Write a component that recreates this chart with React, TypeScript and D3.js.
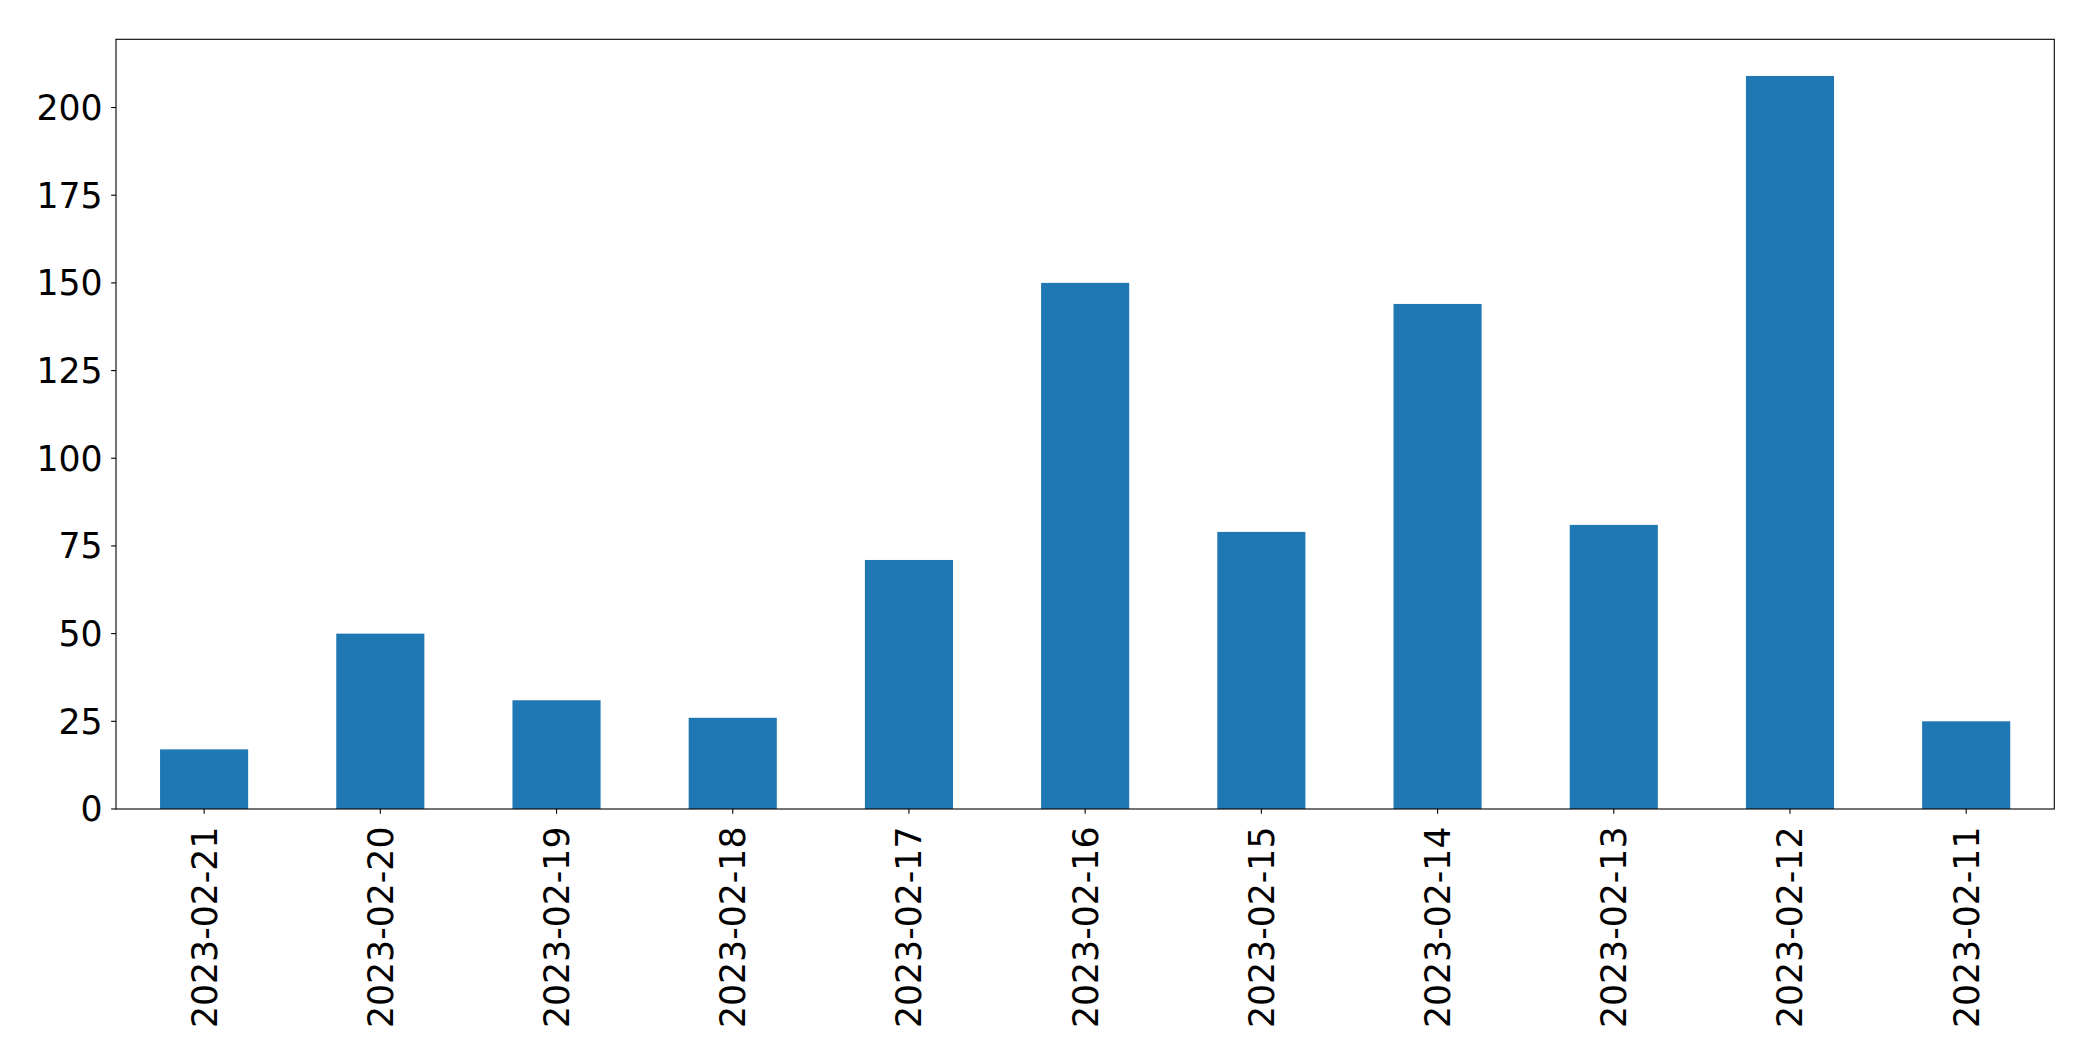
import React from "react";
import * as d3 from "d3";

const categories = [
  "2023-02-21", "2023-02-20", "2023-02-19", "2023-02-18", "2023-02-17", "2023-02-16",
  "2023-02-15", "2023-02-14", "2023-02-13", "2023-02-12", "2023-02-11",
];
const values = [17, 50, 31, 26, 71, 150, 79, 144, 81, 209, 25];
const yTicks = [0, 25, 50, 75, 100, 125, 150, 175, 200];

const W = 2093;
const H = 1061;
const M = { left: 116, top: 39.3, right: 2054.3, bottom: 809 };
const FONT = "'DejaVu Sans', sans-serif";
const FS = 34.7;

export default function App() {
  const yMax = d3.max(values)! * 1.05;
  const y = d3.scaleLinear().domain([0, yMax]).range([M.bottom, M.top]);
  const x = d3.scaleLinear().domain([-0.5, categories.length - 0.5]).range([M.left, M.right]);
  const barW = x(0.25) - x(-0.25);
  const tickLen = 4.86;

  return (
    <svg width={W} height={H} style={{ position: "absolute", left: 0, top: 0, background: "#fff" }}>
      <rect x={0} y={0} width={W} height={H} fill="#fff" />
      {values.map((v, i) => (
        <rect key={i} x={x(i) - barW / 2} y={y(v)} width={barW} height={y(0) - y(v)} fill="#1f77b4" />
      ))}
      {yTicks.map((t) => (
        <g key={t}>
          <line x1={M.left - tickLen} x2={M.left} y1={y(t)} y2={y(t)} stroke="#000" strokeWidth={1.1} />
          <text x={M.left - tickLen - 8.5} y={y(t)} dy="0.36em" textAnchor="end" fontFamily={FONT} fontSize={FS} fill="#000">
            {t}
          </text>
        </g>
      ))}
      {categories.map((c, i) => (
        <g key={c}>
          <line x1={x(i)} x2={x(i)} y1={M.bottom} y2={M.bottom + tickLen} stroke="#000" strokeWidth={1.1} />
          <text
            transform={`translate(${x(i)},${826.5}) rotate(-90)`}
            dy="0.36em"
            textAnchor="end"
            fontFamily={FONT}
            fontSize={FS}
            fill="#000"
          >
            {c}
          </text>
        </g>
      ))}
      <rect x={M.left} y={M.top} width={M.right - M.left} height={M.bottom - M.top} fill="none" stroke="#000" strokeWidth={1.1} />
    </svg>
  );
}
